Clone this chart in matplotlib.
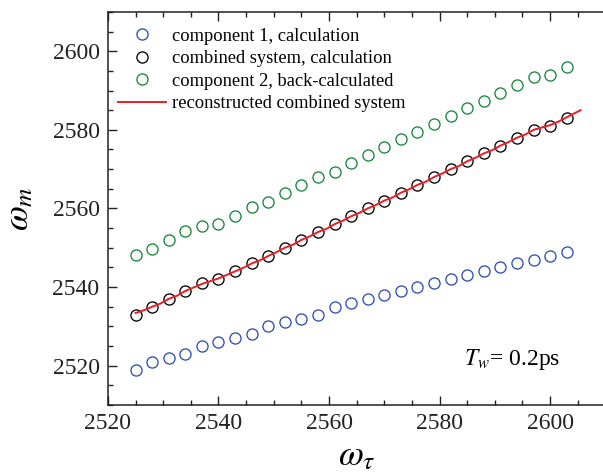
import matplotlib
matplotlib.use("Agg")
import matplotlib.pyplot as plt
from matplotlib.ticker import MultipleLocator
import numpy as np

plt.rcParams['font.family'] = ['Liberation Serif', 'DejaVu Serif']
plt.rcParams['mathtext.fontset'] = 'stix'

## Donnees

omega_tau = [2525, 2528, 2531, 2534, 2537, 2540, 2543, 2546, 2549, 2552, 2555, 2558, 2561, 2564,
             2567, 2570, 2573, 2576, 2579, 2582, 2585, 2588, 2591, 2594, 2597, 2600, 2603]

comp1 = [2519, 2521, 2522, 2523, 2525, 2526, 2527, 2528, 2530, 2531, 2532, 2533, 2535, 2536,
         2537, 2538, 2539, 2540, 2541, 2542, 2543, 2544, 2545, 2546, 2547, 2548, 2549]

combined = [2533, 2535, 2537, 2539, 2541, 2542, 2544, 2546, 2548, 2550, 2552, 2554, 2556, 2558,
            2560, 2562, 2564, 2566, 2568, 2570, 2572, 2574, 2576, 2578, 2580, 2581, 2583]

comp2 = [2548.2, 2549.6, 2552.0, 2554.3, 2555.5, 2556.0, 2558.0, 2560.3, 2561.7, 2564.0, 2566.0,
         2568.0, 2569.4, 2571.5, 2573.6, 2575.6, 2577.6, 2579.5, 2581.5, 2583.5, 2585.5, 2587.4,
         2589.3, 2591.3, 2593.4, 2593.9, 2595.9]

# courbe reconstruite (rouge)
recon_x = [2525, 2526.5, 2528, 2529.5, 2531, 2532.5, 2534, 2535.5, 2537, 2538.5, 2540, 2541.5,
           2543, 2544.5, 2546, 2547.5, 2549, 2550.5, 2552, 2553.5, 2555, 2556.5, 2558, 2559.5,
           2561, 2562.5, 2564, 2565.5, 2567, 2568.5, 2570, 2571.5, 2573, 2574.5, 2576, 2577.5,
           2579, 2580.5, 2582, 2583.5, 2585, 2586.5, 2588, 2589.5, 2591, 2592.5, 2594, 2595.5,
           2597, 2598.5, 2600, 2601.5, 2603, 2605.5]
recon_y = [2533.4, 2534.1, 2535.0, 2535.8, 2537.0, 2537.8, 2539.0, 2539.9, 2540.8, 2541.5,
           2542.2, 2543.1, 2544.0, 2544.9, 2546.0, 2546.8, 2547.9, 2548.9, 2550.0, 2550.8,
           2552.0, 2552.9, 2554.0, 2554.8, 2556.0, 2556.9, 2558.0, 2558.9, 2560.0, 2560.9,
           2562.0, 2562.8, 2564.0, 2564.9, 2566.0, 2566.8, 2568.0, 2568.9, 2570.0, 2570.8,
           2572.0, 2572.9, 2574.0, 2574.8, 2576.0, 2576.9, 2578.0, 2578.8, 2580.0, 2580.6,
           2581.2, 2582.1, 2583.2, 2585.0]

## Figure

fig = plt.figure(figsize=(6.03, 4.73), dpi=100)
ax = fig.add_axes([0.179, 0.1438, 0.825, 0.831])

ms = 8.0
mew = 0.95
ax.plot(omega_tau, comp1, 'o', ls='none', mfc='none', mec='#2f4fb0', ms=ms, mew=mew,
        label='component 1, calculation')
ax.plot(omega_tau, combined, 'o', ls='none', mfc='none', mec='black', ms=ms, mew=mew,
        label='combined system, calculation')
ax.plot(omega_tau, comp2, 'o', ls='none', mfc='none', mec='#17873a', ms=ms, mew=mew,
        label='component 2, back-calculated')
ax.plot(recon_x, recon_y, '-', color='#ee1c24', lw=1.4,
        label='reconstructed combined system')

ax.set_xlim(2520, 2610)
ax.set_ylim(2510, 2610)
ax.xaxis.set_major_locator(MultipleLocator(20))
ax.xaxis.set_minor_locator(MultipleLocator(5))
ax.yaxis.set_major_locator(MultipleLocator(20))
ax.yaxis.set_minor_locator(MultipleLocator(5))
ax.tick_params(which='both', direction='in', top=True, right=False, width=1.0,
               labelsize=17, colors='#222222')
ax.tick_params(which='major', length=6.5, pad=6)
ax.tick_params(which='minor', length=3.3)
for sp in ax.spines.values():
    sp.set_linewidth(1.1)
    sp.set_color('#222222')
ax.spines['right'].set_visible(False)

ax.set_xlabel(r'$\omega_\tau$', fontsize=26, labelpad=4)
ax.set_ylabel(r'$\omega_m$', fontsize=26, labelpad=12)

ax.text(0.715, 0.115, r'$T_w$= 0.2ps', transform=ax.transAxes, fontsize=17,
        ha='left', va='center')

ax.legend(loc='upper left', bbox_to_anchor=(0.02, 0.96), frameon=False, fontsize=13.3,
          numpoints=1, handlelength=2.6, handletextpad=0.35, labelspacing=0.3,
          borderpad=0, borderaxespad=0)

fig.savefig('out.png', dpi=100)
